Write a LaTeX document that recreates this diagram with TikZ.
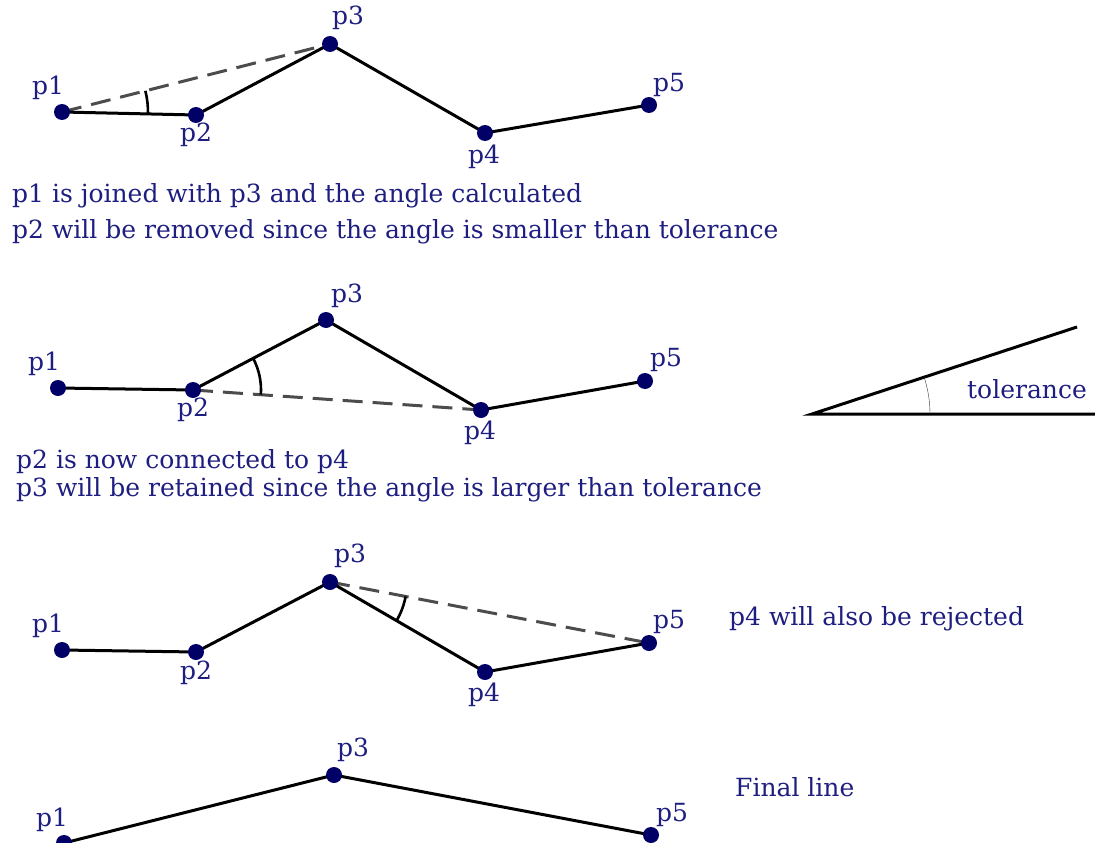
\documentclass[tikz,border=0pt]{standalone}
\usepackage{fontspec}
\setmainfont{DejaVu Serif}
\usetikzlibrary{angles, positioning}
\definecolor{puntocol}{HTML}{000066}
\definecolor{testocol}{HTML}{1E1E80}
\tikzset{
	% vertice della polilinea
	punto/.style={circle, fill=puntocol, inner sep=0pt, minimum size=16pt},
	% etichetta del vertice
	etich/.style={text=testocol, font=\fontsize{25}{30}\selectfont, inner sep=0pt},
	% testo di commento
	nota/.style={text=testocol, font=\fontsize{25}{30}\selectfont, anchor=west, inner sep=0pt},
	% segmento della linea
	linea/.style={line width=3pt, black},
	% congiungente di prova
	prova/.style={line width=3pt, black!70, dash pattern=on 20pt off 10pt},
	% angolo misurato
	arco/.style={draw, line width=2.6pt},
}

\begin{document}
\begin{tikzpicture}[x=1pt, y=1pt]
    \useasboundingbox (0,0) rectangle (1095,-843);

    % ---------------- passo 1 ----------------
    \coordinate (a1) at (62,-112);
    \coordinate (a2) at (196,-115);
    \coordinate (a3) at (330,-44);
    \coordinate (a4) at (485,-133);
    \coordinate (a5) at (649,-105);
    \draw[prova] (a1) -- (a3);
    \draw[linea] (a1) -- (a2) -- (a3) -- (a4) -- (a5);
    \pic[arco, angle radius=86pt] {angle = a2--a1--a3};
    \foreach \i in {1,...,5} \node[punto] (pa\i) at (a\i) {};
    \node[etich] (la1) at (48,-88) {p1};
    \node[etich] (la2) at (196,-135) {p2};
    \node[etich] (la3) at (348,-18) {p3};
    \node[etich] (la4) at (484,-157) {p4};
    \node[etich] (la5) at (669,-85) {p5};
    \node[nota] (na1) at (12,-196) {p1 is joined with p3 and the angle calculated};
    \node[nota] (na2) at (12,-232) {p2 will be removed since the angle is smaller than tolerance};

    % ---------------- passo 2 ----------------
    \coordinate (b1) at (58,-388);
    \coordinate (b2) at (193,-390);
    \coordinate (b3) at (326,-320);
    \coordinate (b4) at (481,-410);
    \coordinate (b5) at (645,-381);
    \draw[prova] (b2) -- (b4);
    \draw[linea] (b1) -- (b2) -- (b3) -- (b4) -- (b5);
    \pic[arco, angle radius=68pt] {angle = b4--b2--b3};
    \foreach \i in {1,...,5} \node[punto] (pb\i) at (b\i) {};
    \node[etich] (lb1) at (44,-364) {p1};
    \node[etich] (lb2) at (193,-410) {p2};
    \node[etich] (lb3) at (347,-296) {p3};
    \node[etich] (lb4) at (480,-433) {p4};
    \node[etich] (lb5) at (666,-360) {p5};
    \node[nota] (nb1) at (16,-462) {p2 is now connected to p4};
    \node[nota] (nb2) at (16,-490) {p3 will be retained since the angle is larger than tolerance};

    % tolleranza
    \coordinate (t0) at (812,-414);
    \coordinate (t1) at (1095,-414);
    \coordinate (t2) at (1077,-327);
    \draw[linea] (t1) -- (t0) -- (t2);
    \pic[draw, thin, black!80, angle radius=118pt] {angle = t1--t0--t2};
    \node[etich] (ltol) at (1027,-389) {tolerance};

    % ---------------- passo 3 ----------------
    \coordinate (c1) at (62,-650);
    \coordinate (c2) at (196,-652);
    \coordinate (c3) at (330,-582);
    \coordinate (c4) at (485,-672);
    \coordinate (c5) at (649,-643);
    \draw[prova] (c3) -- (c5);
    \draw[linea] (c1) -- (c2) -- (c3) -- (c4) -- (c5);
    \pic[arco, angle radius=77pt] {angle = c4--c3--c5};
    \foreach \i in {1,...,5} \node[punto] (pc\i) at (c\i) {};
    \node[etich] (lc1) at (48,-626) {p1};
    \node[etich] (lc2) at (196,-673) {p2};
    \node[etich] (lc3) at (350,-556) {p3};
    \node[etich] (lc4) at (484,-695) {p4};
    \node[etich] (lc5) at (669,-622) {p5};
    \node[nota] (nc1) at (729,-619) {p4 will also be rejected};

    % ---------------- linea finale ----------------
    \coordinate (d1) at (64,-843);
    \coordinate (d3) at (334,-775);
    \coordinate (d5) at (651,-835);
    \draw[linea] (d1) -- (d3) -- (d5);
    \foreach \i in {1,3,5} \node[punto] (pd\i) at (d\i) {};
    \node[etich] (ld1) at (52,-820) {p1};
    \node[etich] (ld3) at (353,-750) {p3};
    \node[etich] (ld5) at (672,-815) {p5};
    \node[nota] (nd1) at (735,-787) {Final line};
\end{tikzpicture}
\end{document}
